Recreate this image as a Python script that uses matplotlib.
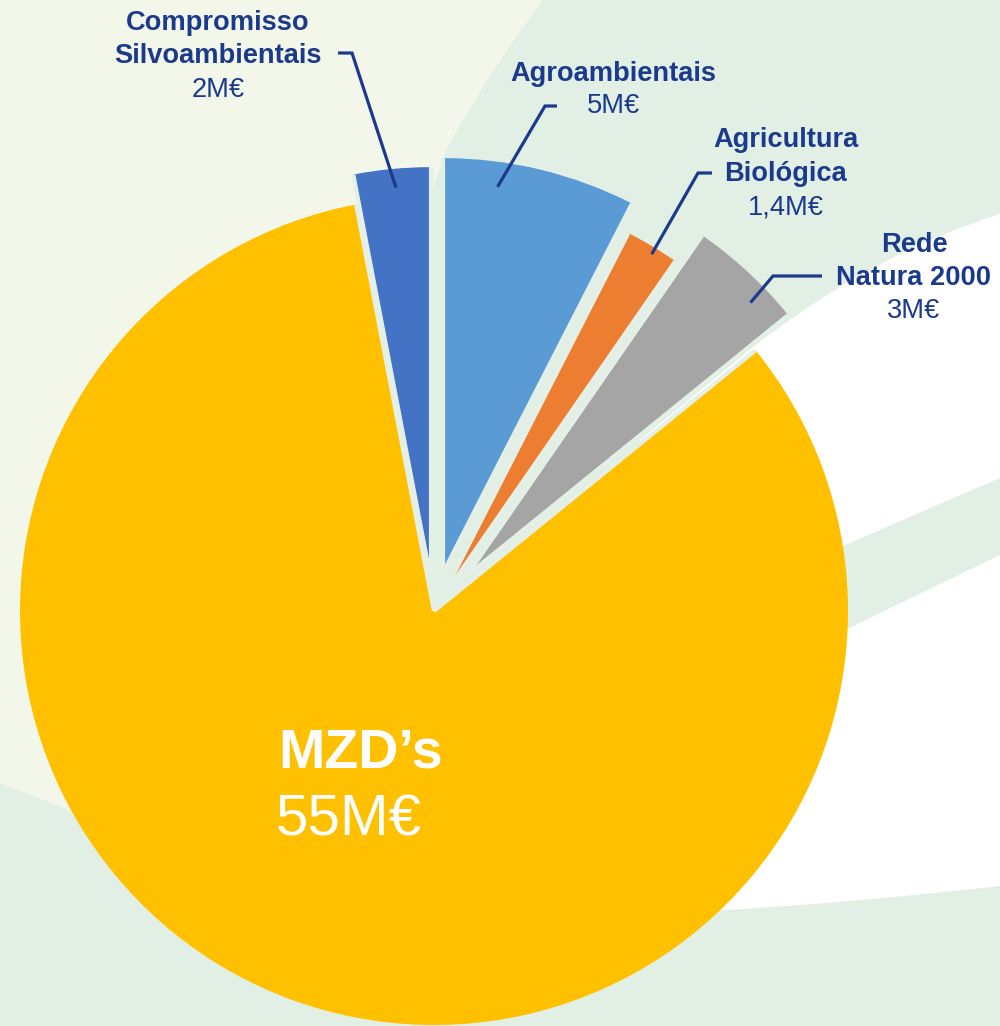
import numpy as np
import matplotlib
matplotlib.use("Agg")
import matplotlib.pyplot as plt
from matplotlib.path import Path
from matplotlib.patches import PathPatch, Rectangle

# ---------------- data ----------------
categories = ["Agroambientais", "Agricultura\nBiológica", "Rede\nNatura 2000",
              "MZD’s", "Compromisso\nSilvoambientais"]
values = [5, 1.4, 3, 55, 2]
value_labels = ["5M€", "1,4M€", "3M€", "55M€", "2M€"]

# ---------------- style / layout ----------------
colors = ["#5B9BD5", "#ED7D31", "#A5A5A5", "#FFC000", "#4472C4"]
explode_px = [40, 11, 48, 0, 30]
W, H = 1000, 1026
CX, CY, R = 434, 611, 414
navy = "#1c3a8c"
cream = "#f2f7ea"
green = "#e2efe5"
gap_color = "#e4f0e6"
FONT = ["Liberation Sans", "DejaVu Sans"]


def Y(y):
    return H - y


fig = plt.figure(figsize=(W / 100, H / 100), dpi=100)
ax = fig.add_axes([0, 0, 1, 1])


def region(points, codes, color):
    pts = [(x, Y(y)) for x, y in points]
    ax.add_patch(PathPatch(Path(pts, codes), facecolor=color, edgecolor="none", zorder=-5))


M, L, C3, CL = Path.MOVETO, Path.LINETO, Path.CURVE3, Path.CLOSEPOLY
ax.add_patch(Rectangle((0, 0), W, H, facecolor=green, edgecolor="none", zorder=-10))
# cream area (top-left)
region([(0, 0), (543, 0), (490, 70), (446, 150), (330, 500), (220, 870),
        (110, 826), (0, 783), (0, 0)],
       [M, L, C3, C3, C3, C3, L, L, CL], cream)
# upper white sweep
region([(1000, 214), (870, 255), (752, 348), (640, 440), (640, 600),
        (845, 545), (1000, 478), (1000, 214)],
       [M, C3, C3, L, L, L, L, CL], "white")
# lower white sweep
region([(1000, 555), (845, 630), (640, 720), (640, 912), (727, 910),
        (860, 902), (1000, 886), (1000, 555)],
       [M, L, L, L, L, C3, C3, CL], "white")

wedges, _ = ax.pie(values, colors=colors, startangle=90, counterclock=False,
                   center=(CX, Y(CY)), radius=R, explode=explode_px,
                   wedgeprops=dict(edgecolor="none", linewidth=0))
# light separators on the radial sides of every wedge
for w in wedges:
    wx, wy = w.center
    for th in (w.theta1, w.theta2):
        ex = wx + w.r * np.cos(np.radians(th))
        ey = wy + w.r * np.sin(np.radians(th))
        ax.plot([wx, ex], [wy, ey], color=gap_color, lw=3.0,
                solid_capstyle="butt", zorder=3)

ax.set_xlim(0, W)
ax.set_ylim(0, H)
ax.set_aspect("equal")
ax.axis("off")

label_layout = {
    4: dict(x=218, base=[30, 63], vbase=97),
    0: dict(x=613, base=[81], vbase=113),
    1: dict(x=786, base=[147, 181], vbase=214),
    2: dict(x=914, base=[252, 285], vbase=318),
}
# leader: (angle deg, radius from wedge apex), elbow px, end px
leaders = {
    4: ((95.1, 395), (352, 53), (338, 53)),
    0: ((82.0, 389), (545, 106), (557, 106)),
    1: ((58.6, 407), (698, 173), (712, 173)),
    2: ((43.9, 394), (773, 276), (822, 276)),
}

fs = 19.6
for i, lay in label_layout.items():
    lines = categories[i].split("\n")
    for line, b in zip(lines, lay["base"]):
        ax.text(lay["x"], Y(b), line, ha="center", va="baseline", fontsize=fs,
                fontweight="bold", color=navy, family=FONT)
    ax.text(lay["x"], Y(lay["vbase"]), value_labels[i], ha="center", va="baseline",
            fontsize=fs, color=navy, family=FONT)
    (ang, rr), elbow, end = leaders[i]
    wx, wy = wedges[i].center
    sx = wx + rr * np.cos(np.radians(ang))
    sy = wy + rr * np.sin(np.radians(ang))
    ax.plot([sx, elbow[0], end[0]], [sy, Y(elbow[1]), Y(end[1])], color=navy,
            lw=2.3, solid_capstyle="butt", solid_joinstyle="miter", zorder=5)

ax.text(278, Y(767), categories[3], ha="left", va="baseline", fontsize=40,
        fontweight="bold", color="white", family=FONT)
ax.text(276, Y(835), value_labels[3], ha="left", va="baseline", fontsize=42,
        color="white", family=FONT)

fig.savefig("out.png", dpi=100)
